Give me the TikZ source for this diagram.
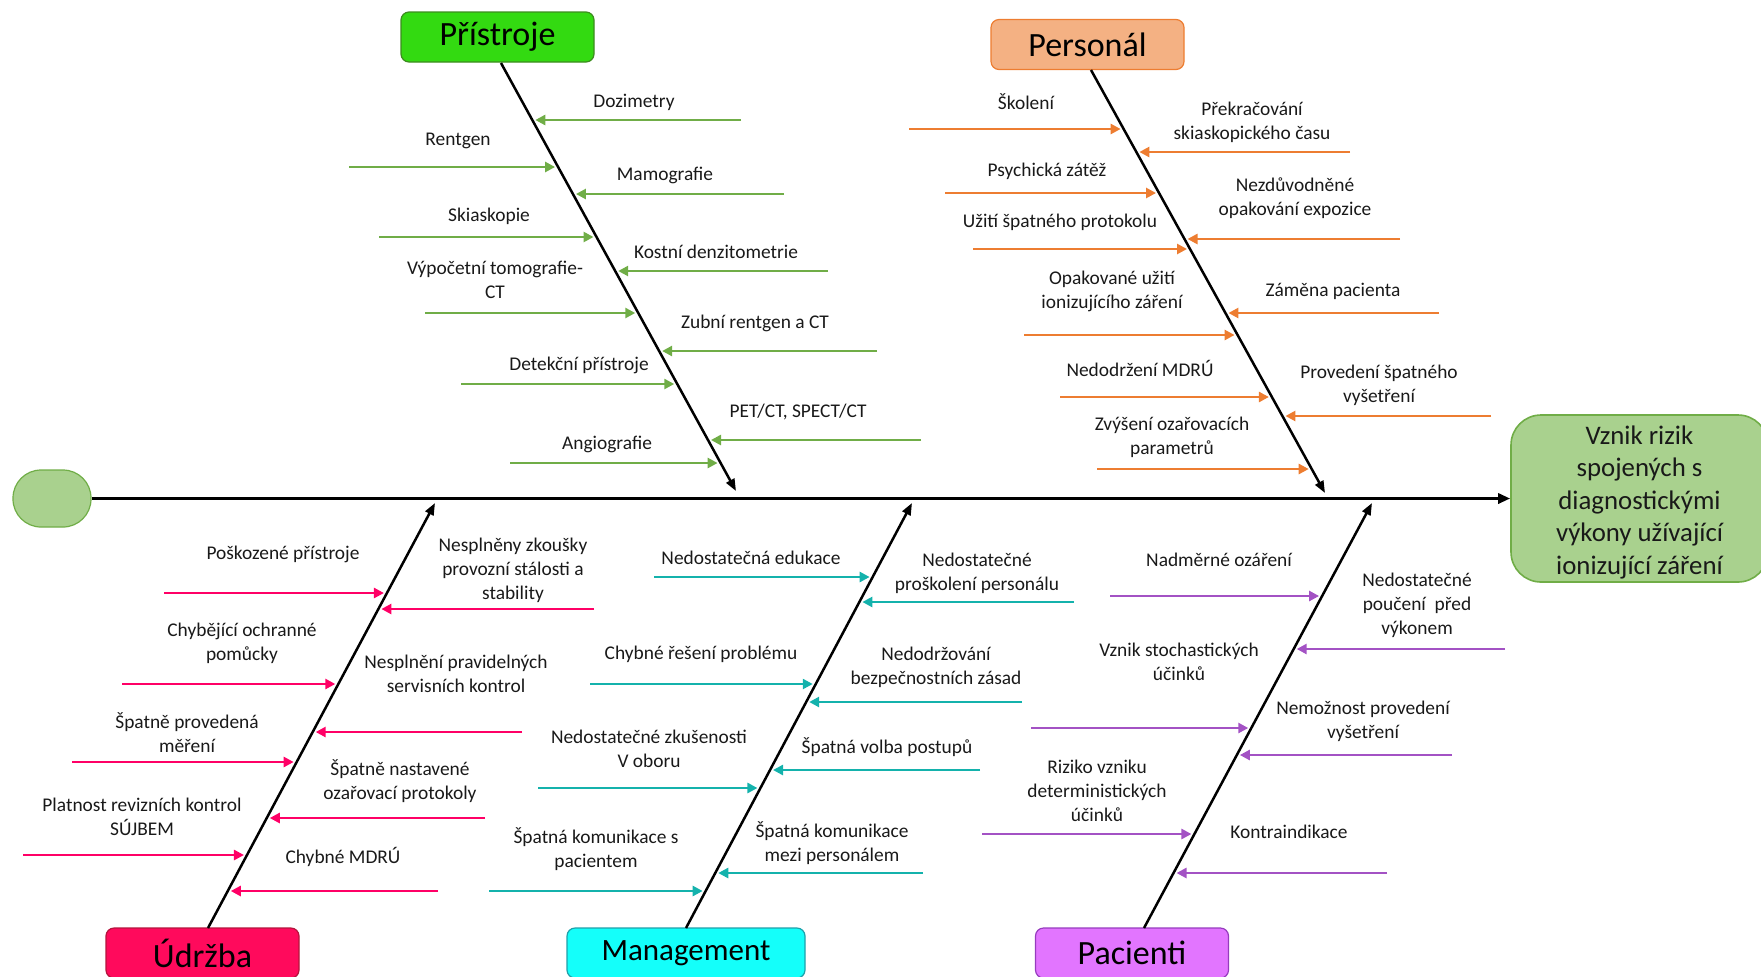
\documentclass[tikz,border=0pt]{standalone}
\usepackage{fontspec}
\setmainfont{Carlito}
\usetikzlibrary{arrows.meta,calc}
\definecolor{cGreenF}{RGB}{51,218,17}
\definecolor{cGreenD}{RGB}{60,140,30}
\definecolor{cGreenR}{RGB}{112,173,71}
\definecolor{cOrF}{RGB}{244,177,131}
\definecolor{cOrD}{RGB}{237,125,49}
\definecolor{cRedF}{RGB}{255,10,92}
\definecolor{cRedD}{RGB}{180,20,60}
\definecolor{cRedR}{RGB}{255,0,102}
\definecolor{cCyF}{RGB}{20,255,250}
\definecolor{cCyD}{RGB}{30,160,170}
\definecolor{cTeR}{RGB}{20,178,172}
\definecolor{cPuF}{RGB}{226,117,255}
\definecolor{cPuD}{RGB}{150,60,190}
\definecolor{cPuR}{RGB}{163,82,196}
\definecolor{cEffF}{RGB}{169,209,142}
\definecolor{cEffD}{RGB}{112,173,71}
\definecolor{cText}{RGB}{25,25,25}
% bone: id, x1, y1, x2, y2 (arrow at x2,y2)
\newcommand\fbone[5]{%
  \expandafter\def\csname bxa#1\endcsname{#2}%
  \expandafter\def\csname bya#1\endcsname{#3}%
  \expandafter\def\csname bxb#1\endcsname{#4}%
  \expandafter\def\csname byb#1\endcsname{#5}%
  \coordinate (#1s) at (#2,#3);
  \coordinate (#1e) at (#4,#5);
  \draw[bone] (#1s) -- (#1e);
}
% rib: bone, name, y, free x, colour, label x, label y, text
\newcommand\rib[8]{%
  \coordinate (#2t) at ({\csname bxa#1\endcsname+(\csname bxb#1\endcsname-\csname bxa#1\endcsname)/(\csname byb#1\endcsname-\csname bya#1\endcsname)*(#3-\csname bya#1\endcsname)},#3);
  \coordinate (#2f) at (#4,#3);
  \draw[ribline,color=#5] (#2f) -- (#2t);
  \node[lab] (#2l) at (#6,#7) {#8};
}
\begin{document}
\begin{tikzpicture}[x=0.5pt,y=-0.5pt,
  cat/.style={draw, line width=0.6pt, rounded corners=4pt, minimum width=96.5pt, minimum height=25pt, inner sep=0pt, text=black, font=\fontsize{17}{20}\selectfont},
  lab/.style={align=center, inner sep=0pt, text=cText, font=\fontsize{9.7}{12}\selectfont},
  ribline/.style={line width=1.35pt, shorten >=1.5pt, -{Triangle[length=5pt,width=5pt]}},
  bone/.style={line width=1.25pt, black, -{Triangle[length=6pt,width=4.5pt]}},
  spine/.style={line width=1.5pt, black, -{Triangle[length=6pt,width=5pt]}}]
\useasboundingbox (0,0) rectangle (1761,976);
\clip (0,0) rectangle (1761,976);

% head and effect
\node[draw=cEffD, fill=cEffF, line width=0.6pt, rounded corners=14pt, minimum width=39pt, minimum height=28.5pt, inner sep=0pt] (head) at (52,498.5) {};
\node[draw=cEffD, fill=cEffF, line width=0.8pt, rounded corners=15pt, minimum width=128.5pt, minimum height=83.5pt, inner sep=0pt] (eff) at (1639.5,498.5) {};
\node[align=center, inner sep=0pt, text=cText, font=\fontsize{13.4}{16.25}\selectfont] (efft) at (1639.5,502) {Vznik rizik\\spojených s\\diagnostickými\\výkony užívající\\ionizující záření};
\draw[spine] (head.east) -- (eff.west);

% category boxes
\node[cat, fill=cGreenF, draw=cGreenD] (pr) at (497.5,37) {Přístroje};
\node[cat, fill=cOrF, draw=cOrD] (pe) at (1087.5,44.5) {Personál};
\node[cat, fill=cRedF, draw=cRedD] (ud) at (202.5,953) {Údržba};
\node[cat, fill=cCyF, draw=cCyD, minimum width=119pt, font=\fontsize{15.5}{18}\selectfont] (ma) at (686,953) {Management};
\node[cat, fill=cPuF, draw=cPuD] (pa) at (1132,953) {Pacienti};

% bones
\fbone{A}{501}{63}{736}{491}
\fbone{B}{1091}{70}{1325}{493}
\fbone{C}{208}{928}{435}{503}
\fbone{D}{686}{928}{912}{503}
\fbone{E}{1144}{928}{1372}{503}

% Pristroje
\rib{A}{a1}{120}{741}{cGreenR}{634}{102}{Dozimetry}
\rib{A}{a2}{167}{349}{cGreenR}{458}{141}{Rentgen}
\rib{A}{a3}{194}{784}{cGreenR}{665}{175}{Mamografie}
\rib{A}{a4}{237}{379}{cGreenR}{489}{216}{Skiaskopie}
\rib{A}{a5}{271}{828}{cGreenR}{716}{252}{Kostní denzitometrie}
\rib{A}{a6}{313}{425}{cGreenR}{495}{280}{Výpočetní tomografie-\\CT}
\rib{A}{a7}{351}{877}{cGreenR}{755}{323}{Zubní rentgen a CT}
\rib{A}{a8}{384}{461}{cGreenR}{579}{365}{Detekční přístroje}
\rib{A}{a9}{440}{921}{cGreenR}{798}{412}{PET/CT, SPECT/CT}
\rib{A}{a10}{463}{510}{cGreenR}{607}{444}{Angiografie}

% Personal
\rib{B}{b1}{129}{909}{cOrD}{1026}{102}{Školení}
\rib{B}{b2}{152}{1350}{cOrD}{1252}{122}{Překračování\\skiaskopického času}
\rib{B}{b3}{193}{945}{cOrD}{1047}{171}{Psychická zátěž}
\rib{B}{b4}{249}{973}{cOrD}{1060}{222}{Užití špatného protokolu}
\rib{B}{b5}{239}{1400}{cOrD}{1295}{198}{Nezdůvodněné\\opakování expozice}
\rib{B}{b6}{335}{1024}{cOrD}{1112}{291}{Opakované užití\\ionizujícího záření}
\rib{B}{b7}{313}{1439}{cOrD}{1333}{291}{Záměna pacienta}
\rib{B}{b8}{397}{1060}{cOrD}{1140}{368}{Nedodržení MDRÚ}
\rib{B}{b9}{416}{1491}{cOrD}{1379}{385}{Provedení špatného\\vyšetření}
\rib{B}{b10}{469}{1097}{cOrD}{1172}{437}{Zvýšení ozařovacích\\parametrů}

% Udrzba
\rib{C}{c1}{593}{164}{cRedR}{283}{554}{Poškozené přístroje}
\rib{C}{c2}{609}{594}{cRedR}{513}{570}{Nesplněny zkoušky\\provozní stálosti a\\stability}
\rib{C}{c3}{684}{122}{cRedR}{242}{643}{Chybějící ochranné\\pomůcky}
\rib{C}{c4}{732}{522}{cRedR}{456}{674}{Nesplnění pravidelných\\servisních kontrol}
\rib{C}{c5}{762}{72}{cRedR}{187}{733}{Špatně provedená\\měření}
\rib{C}{c6}{818}{485}{cRedR}{400}{781}{Špatně nastavené\\ozařovací protokoly}
\rib{C}{c7}{855}{23}{cRedR}{142}{817}{Platnost revizních kontrol\\SÚJBEM}
\rib{C}{c8}{891}{438}{cRedR}{343}{857}{Chybné MDRÚ}

% Management
\rib{D}{d1}{577}{654}{cTeR}{751}{558}{Nedostatečná edukace}
\rib{D}{d2}{602}{1074}{cTeR}{977}{573}{Nedostatečné\\proškolení personálu}
\rib{D}{d3}{684}{590}{cTeR}{701}{654}{Chybné řešení problému}
\rib{D}{d4}{702}{1022}{cTeR}{936}{667}{Nedodržování\\bezpečnostních zásad}
\rib{D}{d5}{788}{538}{cTeR}{649}{749}{Nedostatečné zkušenosti\\V oboru}
\rib{D}{d6}{770}{980}{cTeR}{887}{747}{Špatná volba postupů}
\rib{D}{d7}{891}{489}{cTeR}{596}{849}{Špatná komunikace s\\pacientem}
\rib{D}{d8}{873}{923}{cTeR}{832}{843}{Špatná komunikace\\mezi personálem}

% Pacienti
\rib{E}{e1}{596}{1110}{cPuR}{1219}{560}{Nadměrné ozáření}
\rib{E}{e2}{649}{1505}{cPuR}{1417}{605}{Nedostatečné\\poučení\ \ před\\výkonem}
\rib{E}{e3}{728}{1031}{cPuR}{1179}{662}{Vznik stochastických\\účinků}
\rib{E}{e4}{755}{1452}{cPuR}{1363}{721}{Nemožnost provedení\\vyšetření}
\rib{E}{e5}{834}{982}{cPuR}{1097}{791}{Riziko vzniku\\deterministických\\účinků}
\rib{E}{e6}{873}{1387}{cPuR}{1289}{832}{Kontraindikace}
\end{tikzpicture}
\end{document}
